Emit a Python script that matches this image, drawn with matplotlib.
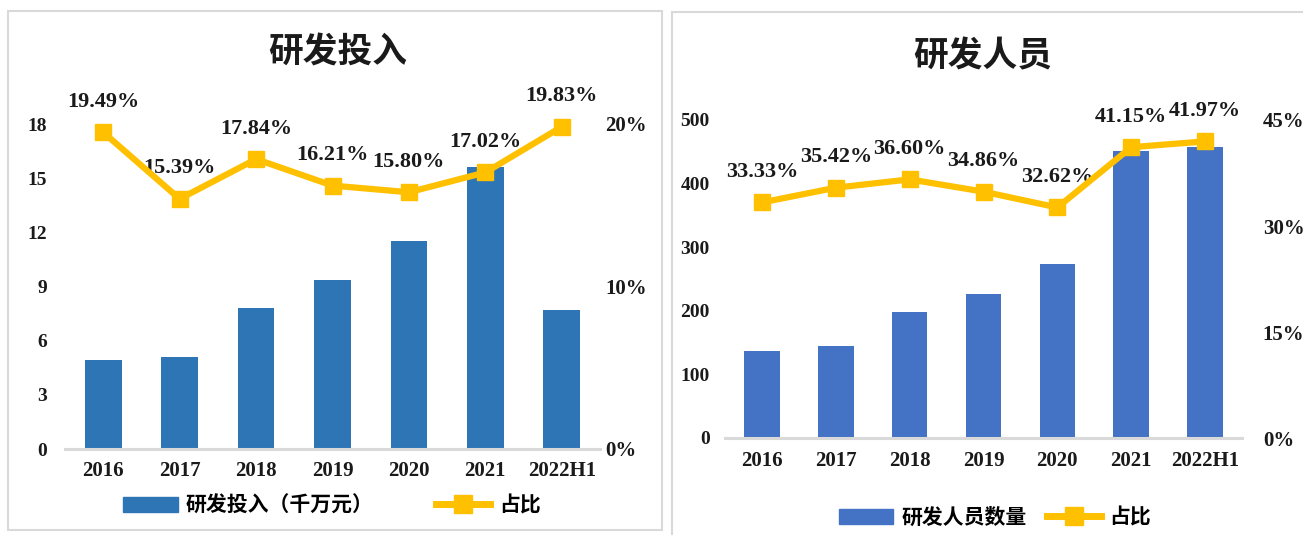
import matplotlib
matplotlib.use("Agg")
import matplotlib.pyplot as plt
from matplotlib.patches import Rectangle
from matplotlib.ticker import FuncFormatter
from matplotlib.lines import Line2D
from matplotlib.patches import Patch

# ---- data ----
categories = ["2016", "2017", "2018", "2019", "2020", "2021", "2022H1"]
rd_invest = [4.95, 5.1, 7.8, 9.35, 11.5, 15.6, 7.7]          # 千万元
rd_invest_ratio = [19.49, 15.39, 17.84, 16.21, 15.80, 17.02, 19.83]  # %
rd_staff = [137, 145, 198, 226, 274, 451, 458]
rd_staff_ratio = [33.33, 35.42, 36.60, 34.86, 32.62, 41.15, 41.97]   # %

W, H = 1303, 535
fig = plt.figure(figsize=(W / 100, H / 100), dpi=100)

NUM_FONT = ["Liberation Serif", "Noto Sans CJK SC"]
CJK_FONT = ["Noto Sans CJK SC", "DejaVu Sans"]
TXT = "#1a1a1a"
YELLOW = "#FFC000"
GRID = "#D9D9D9"


def px_axes(x0, x1, ytop, ybot):
    return fig.add_axes([x0 / W, (H - ybot) / H, (x1 - x0) / W, (ybot - ytop) / H])


# panel borders
fig.patches.append(Rectangle((8 / W, (H - 530) / H), (662 - 8) / W, (530 - 11) / H,
                             transform=fig.transFigure, fill=False, ec=GRID, lw=1.5))
fig.patches.append(Rectangle((672 / W, (H - 560) / H), (1330 - 672) / W, (560 - 12) / H,
                             transform=fig.transFigure, fill=False, ec=GRID, lw=1.5))


def panel(ax, bars, ratio, bar_color, ymax, yticks, rmax, rticks, lpad, rpad):
    x = list(range(len(categories)))
    ax.bar(x, bars, width=0.48, color=bar_color, zorder=2)
    ax.set_xlim(-0.5, len(categories) - 0.5)
    ax.set_ylim(0, ymax)
    ax.set_yticks(yticks)
    ax.set_xticks(x)
    ax.set_xticklabels(categories)
    for s in ["top", "left", "right"]:
        ax.spines[s].set_visible(False)
    ax.spines["bottom"].set_color(GRID)
    ax.spines["bottom"].set_linewidth(2.2)
    ax.tick_params(axis="both", length=0, labelcolor=TXT)
    ax.tick_params(axis="y", pad=lpad, labelsize=14)
    ax.tick_params(axis="x", pad=9, labelsize=15)
    for lab in ax.get_xticklabels() + ax.get_yticklabels():
        lab.set_fontfamily(NUM_FONT)
        lab.set_fontweight("bold")

    ax2 = ax.twinx()
    ax2.plot(x, [r / 100 for r in ratio], color=YELLOW, lw=4.5, marker="s",
             markersize=11, zorder=5, clip_on=False)
    ax2.set_ylim(0, rmax)
    ax2.set_yticks(rticks)
    ax2.yaxis.set_major_formatter(FuncFormatter(lambda v, p: f"{v*100:.0f}%"))
    for s in ["top", "left", "right", "bottom"]:
        ax2.spines[s].set_visible(False)
    ax2.tick_params(axis="y", length=0, labelsize=15, labelcolor=TXT, pad=rpad)
    for lab in ax2.get_yticklabels():
        lab.set_fontfamily(NUM_FONT)
        lab.set_fontweight("bold")
    for xi, r in zip(x, ratio):
        ax2.annotate(f"{r:.2f}%", (xi, r / 100), xytext=(0, 22), textcoords="offset points",
                     ha="center", va="center", fontsize=16, fontweight="bold",
                     family=NUM_FONT, color=TXT, annotation_clip=False)
    return ax2


# left panel
axL = px_axes(65, 600, 124, 449)
panel(axL, rd_invest, rd_invest_ratio, "#2E75B6", 18, [0, 3, 6, 9, 12, 15, 18],
      0.20, [0, 0.10, 0.20], 13, 4)
fig.text(338 / W, (H - 52) / H, "研发投入", ha="center", va="center", fontsize=25,
         fontweight="bold", family=CJK_FONT, color=TXT)
hL = [Patch(color="#2E75B6", label="研发投入（千万元）"),
      Line2D([], [], color=YELLOW, lw=5, marker="s", markersize=13, label="占比")]
fig.legend(handles=hL, loc="center", bbox_to_anchor=(332 / W, (H - 505) / H), ncol=2,
           frameon=False, prop={"family": CJK_FONT, "weight": "bold", "size": 15},
           handlelength=2.6, handleheight=0.7, columnspacing=3.0, handletextpad=0.4)

# right panel
axR = px_axes(725, 1242, 120, 438)
panel(axR, rd_staff, rd_staff_ratio, "#4472C4", 500, [0, 100, 200, 300, 400, 500],
      0.45, [0, 0.15, 0.30, 0.45], 11, 15)
fig.text(983 / W, (H - 56) / H, "研发人员", ha="center", va="center", fontsize=25,
         fontweight="bold", family=CJK_FONT, color=TXT)
hR = [Patch(color="#4472C4", label="研发人员数量"),
      Line2D([], [], color=YELLOW, lw=5, marker="s", markersize=13, label="占比")]
fig.legend(handles=hR, loc="center", bbox_to_anchor=(995 / W, (H - 517) / H), ncol=2,
           frameon=False, prop={"family": CJK_FONT, "weight": "bold", "size": 15},
           handlelength=2.6, handleheight=0.7, columnspacing=1.0, handletextpad=0.4)

fig.savefig("out.png", dpi=100, facecolor="white")
